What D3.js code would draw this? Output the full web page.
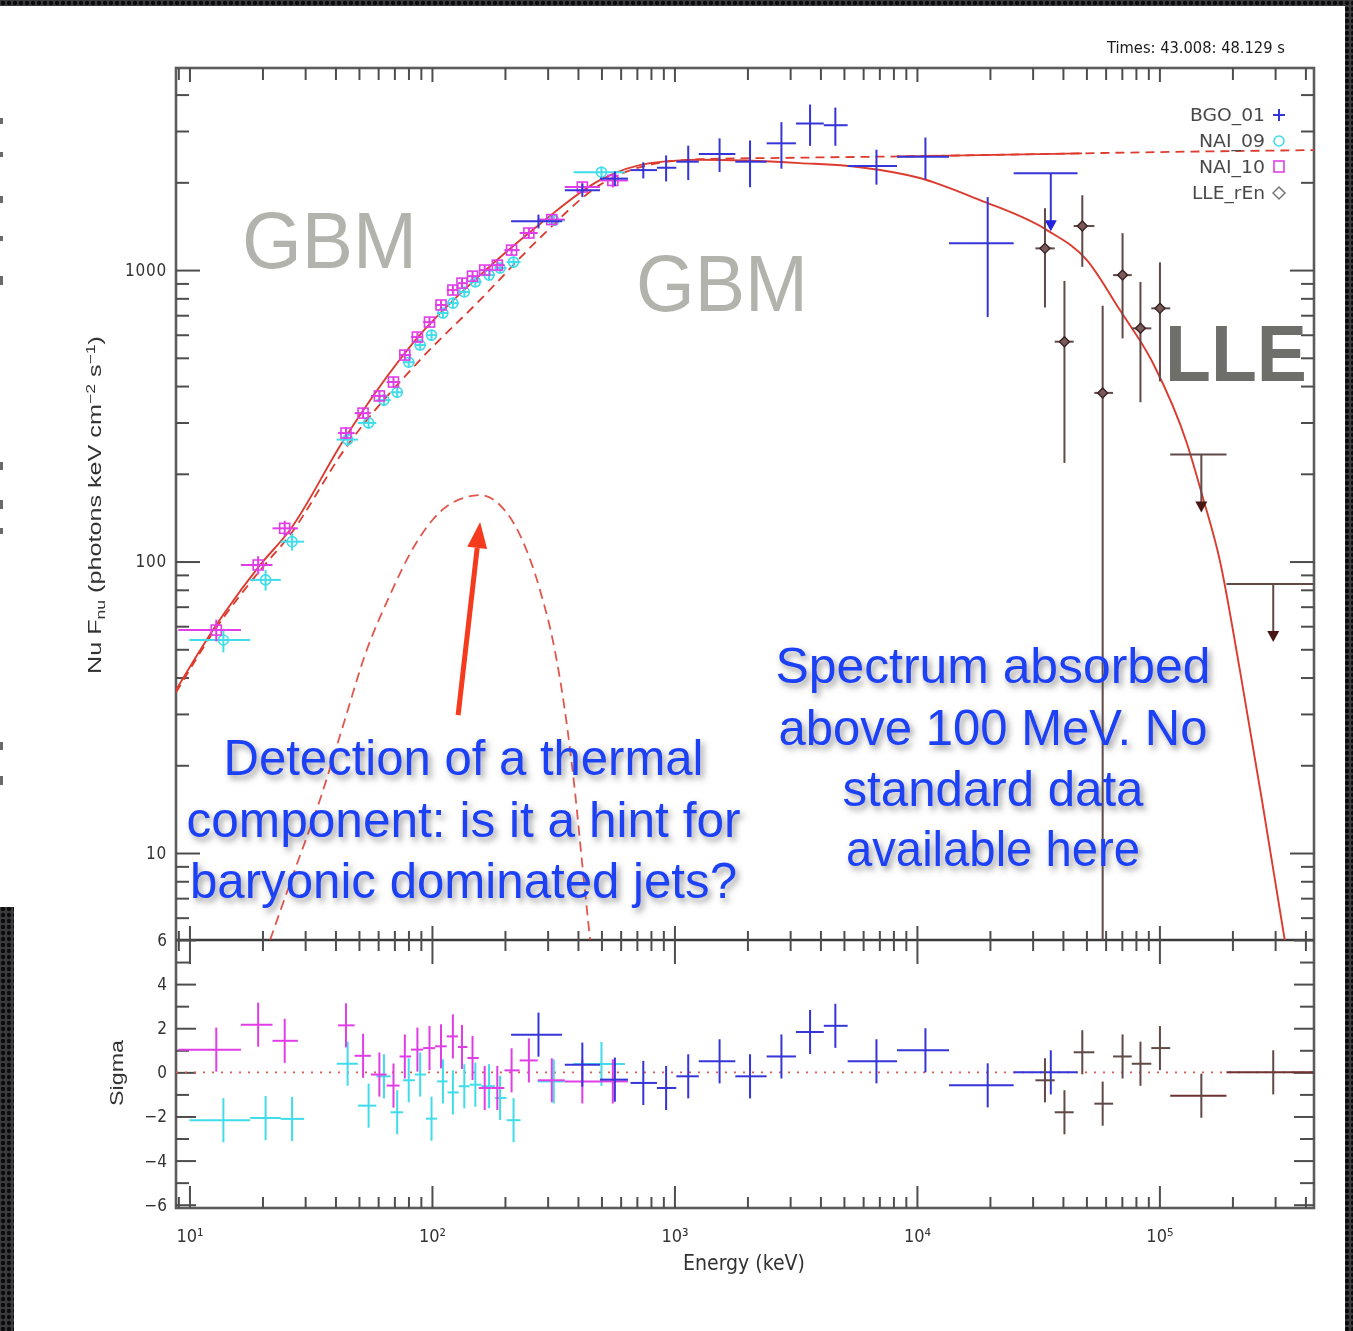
<!DOCTYPE html>
<html>
<head>
<meta charset="utf-8">
<script src="https://cdn.jsdelivr.net/npm/d3@7"></script>
<style>
  html, body { margin: 0; padding: 0; background: #222; }
  svg { display: block; }
</style>
</head>
<body>
<svg id="chart" width="1353" height="1331"></svg>
<script>
// ---------------- spectral data (keV, photons keV cm^-2 s^-1) ----------------
// NaI_10 (magenta squares)
const nai10Energy = [12.9, 19.2, 24.7, 44.2, 52.0, 60.7, 69.4, 77.3, 87.1, 97.7, 109, 122, 133, 147, 165, 186, 213, 251, 312, 417, 557];
const nai10Low    = [9.0, 16.3, 22.0, 41.0, 48.0, 56.0, 65.0, 73.5, 82.0, 92.0, 103, 115, 128, 140, 156, 176, 199, 230, 273, 353, 493];
const nai10High   = [16.3, 22.0, 28.0, 48.0, 56.0, 65.0, 73.5, 82.0, 92.0, 103, 115, 128, 140, 156, 176, 199, 230, 273, 353, 493, 643];
const nai10Flux   = [58.2, 97.3, 130, 276, 323, 370, 413, 511, 589, 663, 759, 854, 902, 953, 1000, 1040, 1171, 1340, 1490, 1927, 2030];
const nai10Err    = [5, 7, 8, 13, 14, 16, 17, 20, 22, 25, 28, 31, 33, 35, 38, 41, 47, 55, 65, 85, 110];
const nai10Sigma  = [1.03, 2.16, 1.43, 2.13, 0.75, -0.10, -0.60, 0.72, 1.03, 1.10, 1.18, 1.63, 1.15, 0.65, -0.71, -0.71, 0.09, 0.54, -0.36, -0.41, -0.41];

// NaI_09 (cyan circles)
const nai09Energy = [13.8, 20.6, 26.5, 44.9, 54.8, 63.4, 71.9, 80.2, 89.4, 99.6, 111, 122, 136, 151, 172, 191, 217, 318, 500];
const nai09Low    = [10.0, 17.8, 23.8, 40.5, 49.5, 59.0, 67.5, 76.0, 85.0, 94.5, 105, 116, 129, 143, 160, 182, 203, 273, 384];
const nai09High   = [17.8, 23.8, 29.7, 49.5, 59.0, 67.5, 76.0, 85.0, 94.5, 105, 116, 129, 143, 160, 182, 203, 232, 353, 625];
const nai09Flux   = [53.8, 86.5, 117, 262, 299, 358, 381, 483, 553, 598, 712, 770, 841, 911, 961, 1016, 1065, 1480, 2167];
const nai09Err    = [5, 7, 8, 13, 14, 16, 17, 20, 22, 25, 28, 31, 33, 35, 38, 41, 47, 65, 100];
const nai09Sigma  = [-2.17, -2.07, -2.11, 0.39, -1.51, -0.18, -1.81, -0.36, -0.10, -2.10, -0.41, -0.91, -0.63, -0.56, -0.63, -1.16, -2.17, -0.41, 0.38];

// BGO_01 (blue crosses, last bin an upper limit)
const bgoEnergy = [275, 417, 568, 744, 924, 1140, 1535, 2050, 2762, 3625, 4609, 6810, 10840, 19580, 35650];
const bgoLow    = [212, 353, 493, 659, 847, 1018, 1260, 1783, 2400, 3170, 4130, 5180, 8280, 13560, 25060];
const bgoHigh   = [344, 493, 643, 847, 1018, 1260, 1783, 2400, 3170, 4130, 5180, 8280, 13560, 25060, 45960];
const bgoFlux   = [1470, 1880, 2060, 2203, 2244, 2354, 2501, 2354, 2722, 3183, 3140, 2276, 2450, 1235, 2148];
const bgoErr    = [80, 100, 120, 140, 230, 318, 330, 430, 495, 515, 470, 312, 400, 545, 0];
const bgoUpper  = [0, 0, 0, 0, 0, 0, 0, 0, 0, 0, 0, 0, 0, 0, 1];
const bgoSigma  = [1.71, 0.35, -0.33, -0.48, -0.71, -0.18, 0.50, -0.18, 0.72, 1.83, 2.11, 0.50, 1.00, -0.59, 0.00];

// LLE_rEn (diamonds, last two bins upper limits)
const lleEnergy = [33730, 40580, 48080, 58340, 70470, 83520, 100500, 148900, 294700];
const lleLow    = [30800, 37000, 44300, 53900, 64400, 76900, 92600, 110800, 189000];
const lleHigh   = [37000, 44300, 53900, 64400, 76900, 92600, 110800, 189000, 431000];
const lleFlux   = [1187, 568, 1416, 379, 961, 631, 739, 233, 83.8];
const lleErr    = [443, 350, 390, 375, 378, 279, 324, 0, 0];
const lleUpper  = [0, 0, 0, 0, 0, 0, 0, 1, 1];
const lleSigma  = [-0.36, -1.81, 0.91, -1.42, 0.72, 0.39, 1.10, -1.06, 0.00];

// Model curves (sampled)
const totalModelEnergy = [8.8, 12.5, 19.5, 25.9, 43.7, 89, 158, 279, 493, 793, 1274, 3296, 5822, 10280, 18200, 34360, 50230, 68700, 94000, 129700, 151000, 177400, 214600, 264700, 328700, 345000];
const totalModelFlux   = [36.2, 58.2, 97, 128, 265, 598, 961, 1440, 2036, 2328, 2390, 2328, 2254, 2069, 1738, 1371, 1082, 729, 480, 255, 166, 101, 42.5, 15.2, 5.03, 3.9];
const bandModelEnergy  = [8.8, 12.5, 19.5, 25.9, 43.7, 89, 158, 279, 493, 793, 1274, 3296, 10280, 31700, 100000, 434000];
const bandModelFlux    = [35.5, 57, 93, 123, 243, 490, 790, 1290, 1960, 2300, 2400, 2430, 2460, 2500, 2540, 2580];
const thermalEnergy    = [21.5, 27.2, 34.5, 43.7, 52.9, 67.1, 85.1, 108, 137, 158, 191, 231, 279, 321, 353, 388, 419, 449];
const thermalFlux      = [5.03, 8.75, 15.2, 28.6, 47.7, 76.7, 114, 148, 166, 169, 156, 123, 79.8, 49.7, 31.0, 16.5, 8.75, 5.03];
// Energy range where the non-thermal component is drawn as a solid step overlay
const bandSolidRange = [8280, 48000];

// Axis ticks and labels
const xMajorTicks  = [10, 100, 1000, 10000, 100000];
const xTickLabels  = ["10\u00B9", "10\u00B2", "10\u00B3", "10\u2074", "10\u2075"];
const yMajorTicks  = [10, 100, 1000];
const yTickLabels  = ["10", "100", "1000"];
const sigmaMajor   = [-6, -4, -2, 0, 2, 4, 6];
const sigmaLabels  = ["\u22126", "\u22124", "\u22122", "0", "2", "4", "6"];
const sigmaMinor   = [-5, -3, -1, 1, 3, 5];

const legendNames  = ["BGO_01", "NAI_09", "NAI_10", "LLE_rEn"];
const timeLabel    = "Times: 43.008: 48.129 s";

// ---------------- layout ----------------
const W = 1353, H = 1331;
const L = 176, R = 1314, T = 68, M = 940, B = 1208;
const ARROW = 58;               // upper-limit arrow length (px)

const colBGO = "#3434d8", colN09 = "#3fdcea", colN10 = "#e03ee6", colLLE = "#5f4848";
const colModel = "#dc3a2f", colAxis = "#4e4e4e";
const tickFont = "'Liberation Sans Narrow','DejaVu Sans Condensed','Liberation Sans',sans-serif";
const titleFont = "'Liberation Sans', Arial, sans-serif";

const x = d3.scaleLog().domain([8.8, 4.34e5]).range([L, R]);
const yMain = d3.scaleLog().domain([5.03, 4935]).range([M, T]);
const yRes = d3.scaleLinear().domain([-6.15, 6.0]).range([B, M]);

const svg = d3.select("#chart");
const defs = svg.append("defs");

// dotted dark frame texture
const pat = defs.append("pattern").attr("id", "grille")
  .attr("width", 6).attr("height", 6).attr("patternUnits", "userSpaceOnUse");
pat.append("rect").attr("width", 6).attr("height", 6).attr("fill", "#3b3b3e");
pat.append("circle").attr("cx", 3).attr("cy", 3).attr("r", 2.2).attr("fill", "#0b0b0c");

defs.append("filter").attr("id", "soft")
  .attr("x", "-2%").attr("y", "-2%").attr("width", "104%").attr("height", "104%")
  .append("feGaussianBlur").attr("stdDeviation", 0.6);

const sh = defs.append("filter").attr("id", "shadow")
  .attr("x", "-10%").attr("y", "-30%").attr("width", "120%").attr("height", "170%");
sh.append("feDropShadow").attr("dx", 3).attr("dy", 4).attr("stdDeviation", 3)
  .attr("flood-color", "#555").attr("flood-opacity", 0.6);

defs.append("clipPath").attr("id", "clipMain").append("rect")
  .attr("x", L).attr("y", T).attr("width", R - L).attr("height", M - T);
defs.append("clipPath").attr("id", "clipBand").append("rect")
  .attr("x", x(bandSolidRange[0])).attr("y", T).attr("width", x(bandSolidRange[1]) - x(bandSolidRange[0])).attr("height", M - T);

// page background
svg.append("rect").attr("width", W).attr("height", H).attr("fill", "url(#grille)");
svg.append("rect").attr("x", 0).attr("y", 6).attr("width", 1345).attr("height", H - 6).attr("fill", "#ffffff");
svg.append("rect").attr("x", 0).attr("y", 907).attr("width", 14).attr("height", H - 907).attr("fill", "url(#grille)");
// cut-off text fragments along the left margin
const frag = svg.append("g").attr("fill", "#6a6a6a");
[[118, 6], [152, 5], [196, 7], [236, 5], [276, 9], [462, 8], [500, 9], [528, 6], [742, 8], [776, 9]]
  .forEach(([yy, hh]) => frag.append("rect").attr("x", 0).attr("y", yy).attr("width", 3).attr("height", hh));

// ---------------- plot layer ----------------
const plot = svg.append("g").attr("filter", "url(#soft)");

// frame
plot.append("rect").attr("x", L).attr("y", T).attr("width", R - L).attr("height", B - T)
  .attr("fill", "none").attr("stroke", "#5c5c5c").attr("stroke-width", 2.6);
plot.append("line").attr("x1", L).attr("x2", R).attr("y1", M).attr("y2", M)
  .attr("stroke", "#3a3a3a").attr("stroke-width", 2.4);

function drawAxis(gen, tx, ty, values, size, fmt, pad) {
  const a = gen.tickValues(values).tickSizeInner(size).tickSizeOuter(0)
    .tickPadding(pad || 6).tickFormat(fmt || (() => ""));
  const g = plot.append("g").attr("transform", `translate(${tx},${ty})`).call(a);
  g.select(".domain").remove();
  g.selectAll(".tick line").attr("stroke", colAxis).attr("stroke-width", 2);
  g.selectAll(".tick text").attr("fill", "#333").attr("font-family", tickFont)
    .attr("font-size", 17).attr("letter-spacing", 0.8);
  return g;
}

// minor tick positions between decades
const xMinor = [];
[1, 10, 100, 1000, 10000, 100000].forEach(d => {
  for (let m = 2; m < 10; m++) { const v = d * m; if (v >= x.domain()[0] && v <= x.domain()[1]) xMinor.push(v); }
});
const yMinor = [];
[1, 10, 100, 1000].forEach(d => {
  for (let m = 2; m < 10; m++) { const v = d * m; if (v >= yMain.domain()[0] && v <= yMain.domain()[1]) yMinor.push(v); }
});
const xLab = d => xTickLabels[xMajorTicks.indexOf(d)];
const yLab = d => yTickLabels[yMajorTicks.indexOf(d)];
const sLab = d => sigmaLabels[sigmaMajor.indexOf(d)];

// x axes: main top, main bottom, residual top, residual bottom
drawAxis(d3.axisTop(x), 0, T, xMajorTicks, -14);
drawAxis(d3.axisTop(x), 0, T, xMinor, -12);
drawAxis(d3.axisBottom(x), 0, M, xMajorTicks, -14);
drawAxis(d3.axisBottom(x), 0, M, xMinor, -9);
drawAxis(d3.axisTop(x), 0, M, xMajorTicks, -24);
drawAxis(d3.axisTop(x), 0, M, xMinor, -11);
const xb = drawAxis(d3.axisBottom(x), 0, B, xMajorTicks, -22, xLab, 21);
xb.selectAll(".tick text").attr("font-size", 18).attr("letter-spacing", 0);
drawAxis(d3.axisBottom(x), 0, B, xMinor, -11);

// y axes of the spectrum panel
drawAxis(d3.axisLeft(yMain), L, 0, yMajorTicks, -24, yLab, 9);
drawAxis(d3.axisLeft(yMain), L, 0, yMinor, -13);
drawAxis(d3.axisRight(yMain), R, 0, yMajorTicks, -24);
drawAxis(d3.axisRight(yMain), R, 0, yMinor, -13);

// y axes of the residual panel
const sl = drawAxis(d3.axisLeft(yRes), L, 0, sigmaMajor, -20, sLab, 9);
sl.selectAll(".tick text").attr("letter-spacing", 0);
drawAxis(d3.axisLeft(yRes), L, 0, sigmaMinor, -13);
drawAxis(d3.axisRight(yRes), R, 0, sigmaMajor, -20);
drawAxis(d3.axisRight(yRes), R, 0, sigmaMinor, -14);

function fitText(sel, target) {
  const len = sel.node().getComputedTextLength();
  const fs = parseFloat(sel.attr("font-size"));
  sel.attr("font-size", fs * target / len);
}

// axis titles
const yt = plot.append("text").attr("transform", "translate(101,505) rotate(-90)")
  .attr("text-anchor", "middle").attr("font-family", titleFont).attr("font-size", 18)
  .attr("fill", "#333").attr("textLength", 338).attr("lengthAdjust", "spacingAndGlyphs");
yt.append("tspan").text("Nu F");
yt.append("tspan").attr("dy", 4).attr("font-size", "70%").text("nu");
yt.append("tspan").attr("dy", -4).text(" (photons keV cm");
yt.append("tspan").attr("dy", -6).attr("font-size", "70%").text("\u22122");
yt.append("tspan").attr("dy", 6).text(" s");
yt.append("tspan").attr("dy", -6).attr("font-size", "70%").text("\u22121");
yt.append("tspan").attr("dy", 6).text(")");

plot.append("text").attr("transform", "translate(123,1073) rotate(-90)")
  .attr("text-anchor", "middle").attr("font-family", titleFont).attr("font-size", 18)
  .attr("fill", "#333").attr("textLength", 66).attr("lengthAdjust", "spacingAndGlyphs").text("Sigma");

const et = plot.append("text").attr("x", 744).attr("y", 1270)
  .attr("text-anchor", "middle").attr("font-family", tickFont).attr("font-size", 19)
  .attr("fill", "#333").text("Energy (keV)");
fitText(et, 122);

const tt = plot.append("text").attr("x", 1107).attr("y", 53)
  .attr("font-family", tickFont).attr("font-size", 14)
  .attr("fill", "#1a1a1a").text(timeLabel);
fitText(tt, 178);

// ---------------- model curves ----------------
const logLine = d3.line().x(d => x(d[0])).y(d => yMain(d[1])).curve(d3.curveMonotoneX);
const curves = plot.append("g").attr("clip-path", "url(#clipMain)").attr("fill", "none");
const bandPts = d3.zip(bandModelEnergy, bandModelFlux);
curves.append("path").attr("d", logLine(bandPts))
  .attr("stroke", colModel).attr("stroke-width", 1.8).attr("stroke-dasharray", "9,6");
curves.append("path").attr("d", logLine(d3.zip(thermalEnergy, thermalFlux)))
  .attr("stroke", colModel).attr("stroke-width", 1.8).attr("stroke-dasharray", "10,6").attr("opacity", 0.85);
curves.append("path").attr("d", logLine(d3.zip(totalModelEnergy, totalModelFlux)))
  .attr("stroke", colModel).attr("stroke-width", 1.9);
curves.append("g").attr("clip-path", "url(#clipBand)").append("path").attr("d", logLine(bandPts))
  .attr("stroke", colModel).attr("stroke-width", 1.9).attr("fill", "none");

// ---------------- data points ----------------
function rows(E, lo, hi, F, err, sig, ul) {
  return E.map((e, i) => ({ e, lo: lo[i], hi: hi[i], f: F[i], err: err[i], s: sig[i], ul: ul ? ul[i] : 0 }));
}
const nai10 = rows(nai10Energy, nai10Low, nai10High, nai10Flux, nai10Err, nai10Sigma);
const nai09 = rows(nai09Energy, nai09Low, nai09High, nai09Flux, nai09Err, nai09Sigma);
const bgo = rows(bgoEnergy, bgoLow, bgoHigh, bgoFlux, bgoErr, bgoSigma, bgoUpper);
const lle = rows(lleEnergy, lleLow, lleHigh, lleFlux, lleErr, lleSigma, lleUpper);

const mainData = plot.append("g").attr("clip-path", "url(#clipMain)");

function drawMain(data, color, tipColor, width) {
  const g = mainData.append("g").attr("stroke", color).attr("stroke-width", width || 2);
  g.selectAll("line.h").data(data).join("line").attr("class", "h")
    .attr("x1", d => x(d.lo)).attr("x2", d => x(d.hi))
    .attr("y1", d => yMain(d.f)).attr("y2", d => yMain(d.f));
  g.selectAll("line.v").data(data.filter(d => !d.ul)).join("line").attr("class", "v")
    .attr("x1", d => x(d.e)).attr("x2", d => x(d.e))
    .attr("y1", d => yMain(Math.max(d.f - d.err, 0.5))).attr("y2", d => yMain(d.f + d.err));
  const ul = data.filter(d => d.ul);
  g.selectAll("line.u").data(ul).join("line").attr("class", "u")
    .attr("x1", d => x(d.e)).attr("x2", d => x(d.e))
    .attr("y1", d => yMain(d.f)).attr("y2", d => yMain(d.f) + ARROW - 8);
  g.selectAll("path.tip").data(ul).join("path").attr("class", "tip")
    .attr("d", d => { const cx = x(d.e), cy = yMain(d.f) + ARROW;
      return `M${cx - 6},${cy - 11}L${cx + 6},${cy - 11}L${cx},${cy}Z`; })
    .attr("fill", tipColor).attr("stroke", "none");
  return g;
}

const gN09 = drawMain(nai09, colN09);
gN09.selectAll("circle").data(nai09).join("circle")
  .attr("cx", d => x(d.e)).attr("cy", d => yMain(d.f)).attr("r", 5)
  .attr("fill", "none").attr("stroke-width", 1.6);

const gN10 = drawMain(nai10, colN10);
gN10.selectAll("rect").data(nai10).join("rect")
  .attr("x", d => x(d.e) - 5).attr("y", d => yMain(d.f) - 5).attr("width", 10).attr("height", 10)
  .attr("fill", "none").attr("stroke-width", 1.6);

drawMain(bgo, colBGO, "#2020e0", 2);

const gLLE = drawMain(lle, colLLE, "#4a1414", 2);
gLLE.selectAll("path.dia").data(lle.filter(d => !d.ul)).join("path").attr("class", "dia")
  .attr("d", d => { const cx = x(d.e), cy = yMain(d.f);
    return `M${cx},${cy - 5}L${cx + 5},${cy}L${cx},${cy + 5}L${cx - 5},${cy}Z`; })
  .attr("fill", "#7a5a5a").attr("stroke", "#3a2222").attr("stroke-width", 1.4);

// ---------------- residuals ----------------
plot.append("line").attr("x1", L).attr("x2", R).attr("y1", yRes(0)).attr("y2", yRes(0))
  .attr("stroke", "#e05a50").attr("stroke-width", 1.6).attr("stroke-dasharray", "2,7");

function drawRes(data, color, hColor) {
  const g = plot.append("g").attr("stroke", color).attr("stroke-width", 2);
  g.selectAll("line.h").data(data).join("line").attr("class", "h")
    .attr("x1", d => x(d.lo)).attr("x2", d => x(d.hi))
    .attr("y1", d => yRes(d.s)).attr("y2", d => yRes(d.s))
    .attr("stroke", d => (d.ul && hColor) ? hColor : color);
  g.selectAll("line.v").data(data).join("line").attr("class", "v")
    .attr("x1", d => x(d.e)).attr("x2", d => x(d.e))
    .attr("y1", d => yRes(d.s - 1)).attr("y2", d => yRes(d.s + 1));
}
drawRes(nai09, colN09);
drawRes(nai10, colN10);
drawRes(bgo, colBGO);
drawRes(lle, colLLE, "#6e3030");

// ---------------- legend ----------------
const leg = plot.append("g");
const legY = [115, 141, 167, 193];
const legWidth = [75, 66, 66, 73];
legendNames.forEach((name, i) => {
  leg.append("text").attr("x", 1265).attr("y", legY[i] + 6).attr("text-anchor", "end")
    .attr("font-family", tickFont).attr("font-size", 17).attr("fill", "#4a4a4a")
    .attr("textLength", legWidth[i]).attr("lengthAdjust", "spacingAndGlyphs").text(name);
});
const sx = 1279;
leg.append("path").attr("d", `M${sx - 6},${legY[0]}H${sx + 6}M${sx},${legY[0] - 6}V${legY[0] + 6}`)
  .attr("stroke", colBGO).attr("stroke-width", 2);
leg.append("circle").attr("cx", sx).attr("cy", legY[1]).attr("r", 5)
  .attr("fill", "none").attr("stroke", colN09).attr("stroke-width", 1.6);
leg.append("rect").attr("x", sx - 5).attr("y", legY[2] - 6).attr("width", 10).attr("height", 11)
  .attr("fill", "none").attr("stroke", colN10).attr("stroke-width", 1.6);
leg.append("path").attr("d", `M${sx},${legY[3] - 6}L${sx + 6},${legY[3]}L${sx},${legY[3] + 6}L${sx - 6},${legY[3]}Z`)
  .attr("fill", "none").attr("stroke", "#777").attr("stroke-width", 1.5);

// ---------------- annotations ----------------
const ann = svg.append("g");
function bigText(txt, xx, yy, size, target, color, weight, anchor) {
  const t = ann.append("text").attr("x", xx).attr("y", yy)
    .attr("font-family", titleFont)
    .attr("font-size", size).attr("font-weight", weight || "normal")
    .attr("fill", color).attr("text-anchor", anchor || "start").text(txt);
  if (target) t.attr("textLength", target).attr("lengthAdjust", "spacingAndGlyphs");
  return t;
}
bigText("GBM", 242, 268, 80, 175, "#b3b3ae");
bigText("GBM", 636, 311, 80, 172, "#b3b3ae");
bigText("LLE", 1165, 381, 79, 142, "#6e6e6a", "bold");

const blue = "#1d40f4";
const noteL = ["Detection of a thermal", "component: is it a hint for", "baryonic dominated jets?"];
const noteLBase = [775, 837, 898];
const noteLWidth = [480, 554, 547];
const noteR = ["Spectrum absorbed", "above 100 MeV. No", "standard data", "available here"];
const noteRBase = [683, 745, 806, 866];
const noteRWidth = [435, 429, 301, 294];
const shadowG = ann.append("g").attr("filter", "url(#shadow)");
noteL.forEach((s, i) => {
  shadowG.append("text").attr("x", 463.5).attr("y", noteLBase[i]).attr("text-anchor", "middle")
    .attr("font-family", titleFont).attr("font-size", 50)
    .attr("fill", blue).attr("textLength", noteLWidth[i]).attr("lengthAdjust", "spacingAndGlyphs").text(s);
});
noteR.forEach((s, i) => {
  shadowG.append("text").attr("x", 993).attr("y", noteRBase[i]).attr("text-anchor", "middle")
    .attr("font-family", titleFont).attr("font-size", 50)
    .attr("fill", blue).attr("textLength", noteRWidth[i]).attr("lengthAdjust", "spacingAndGlyphs").text(s);
});

// red arrow pointing at the thermal peak
const peakI = d3.maxIndex(thermalFlux);
const tipX = x(thermalEnergy[peakI]), tipY = yMain(thermalFlux[peakI]) + 27;
const tailX = tipX - 22, tailY = tipY + 193;
const ang = Math.atan2(tipY - tailY, tipX - tailX);
const headLen = 26, headW = 10;
const bx = tipX - headLen * Math.cos(ang), by = tipY - headLen * Math.sin(ang);
ann.append("line").attr("x1", tailX).attr("y1", tailY).attr("x2", bx).attr("y2", by)
  .attr("stroke", "#f53a1e").attr("stroke-width", 5);
ann.append("path")
  .attr("d", `M${tipX},${tipY}L${bx + headW * Math.sin(ang)},${by - headW * Math.cos(ang)}L${bx - headW * Math.sin(ang)},${by + headW * Math.cos(ang)}Z`)
  .attr("fill", "#f53a1e");
</script>
</body>
</html>
